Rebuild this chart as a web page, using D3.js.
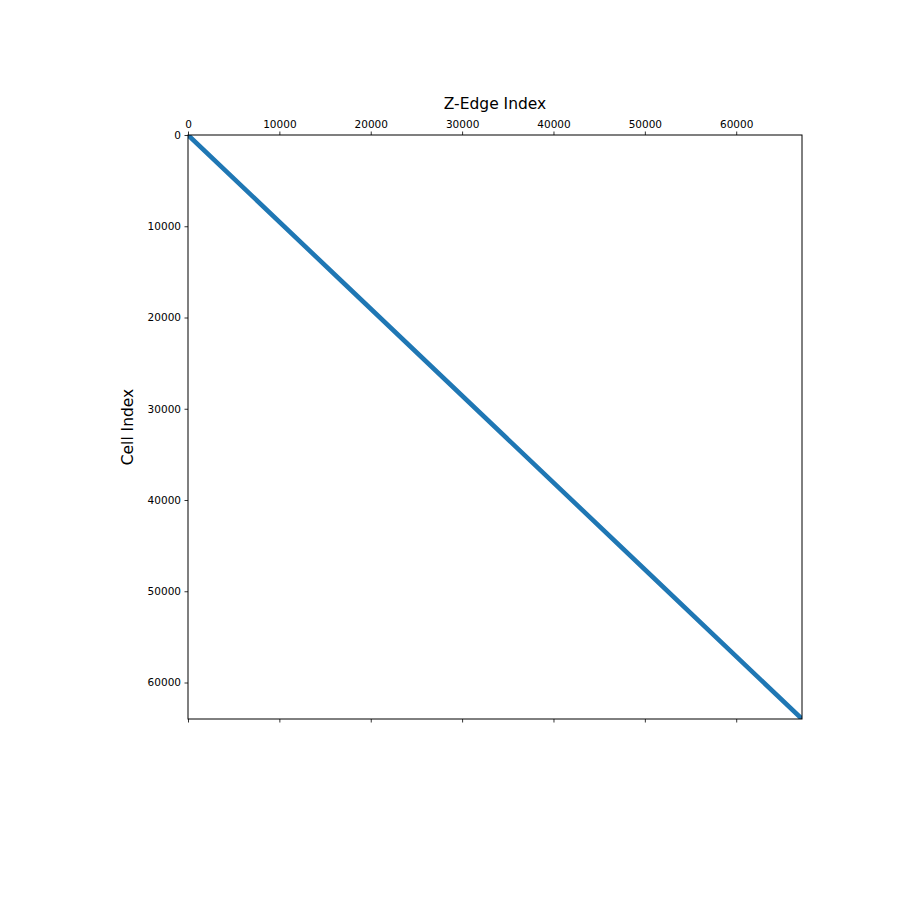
<!DOCTYPE html>
<html><head><meta charset="utf-8">
<script src="https://cdn.jsdelivr.net/npm/d3@7"></script>
<style>body{margin:0;background:#fff}svg{display:block}text{font-family:"DejaVu Sans",sans-serif}</style>
</head><body>
<script>
// Sparsity pattern: the non-zeros lie along one band.
const nCells = 64000;          // rows (Cell Index)
const nZEdges = 67200;         // columns (Z-Edge Index)
const bandCells = [0, 16000, 32000, 48000, 64000];
const bandZEdges = [0, 16800, 33600, 50400, 67200];
const xTicks = [0, 10000, 20000, 30000, 40000, 50000, 60000];
const yTicks = [0, 10000, 20000, 30000, 40000, 50000, 60000];

const W = 900, H = 900;
const m = {left: 188, top: 135, right: 802, bottom: 719};
const svg = d3.select("body").append("svg").attr("width", W).attr("height", H);

const x = d3.scaleLinear().domain([0, nZEdges]).range([m.left, m.right]);
const y = d3.scaleLinear().domain([0, nCells]).range([m.top, m.bottom]);

svg.append("clipPath").attr("id", "clip").append("rect")
  .attr("x", m.left).attr("y", m.top).attr("width", m.right - m.left).attr("height", m.bottom - m.top);

const pts = bandCells.map((c, i) => [bandZEdges[i], c]);
svg.append("path").attr("clip-path", "url(#clip)")
  .attr("d", d3.line().x(d => x(d[0])).y(d => y(d[1]))(pts))
  .attr("fill", "none").attr("stroke", "#1f77b4").attr("stroke-width", 4.6).attr("stroke-linecap", "square");

const fmt = d3.format("d");
const gTop = svg.append("g").attr("transform", `translate(0,${m.top})`)
  .call(d3.axisTop(x).tickValues(xTicks).tickFormat(fmt).tickSizeOuter(0).tickSize(3.5).tickPadding(3.5));
const gBot = svg.append("g").attr("transform", `translate(0,${m.bottom})`)
  .call(d3.axisBottom(x).tickValues(xTicks).tickFormat("").tickSizeOuter(0).tickSize(3.5));
const gLeft = svg.append("g").attr("transform", `translate(${m.left},0)`)
  .call(d3.axisLeft(y).tickValues(yTicks).tickFormat(fmt).tickSizeOuter(0).tickSize(3.5).tickPadding(3.5));
[gTop, gBot, gLeft].forEach(g => {
  g.select(".domain").remove();
  g.selectAll("line").attr("stroke", "#000").attr("stroke-width", 0.8);
  g.selectAll("text").attr("font-size", 10.5).attr("fill", "#000").attr("font-family", "DejaVu Sans");
});

svg.append("rect").attr("x", m.left).attr("y", m.top)
  .attr("width", m.right - m.left).attr("height", m.bottom - m.top)
  .attr("fill", "none").attr("stroke", "#000").attr("stroke-width", 1);

svg.append("text").attr("x", (m.left + m.right) / 2).attr("y", 109)
  .attr("text-anchor", "middle").attr("font-size", 15.5).text("Z-Edge Index");
svg.append("text").attr("transform", `translate(133,${(m.top + m.bottom) / 2}) rotate(-90)`)
  .attr("text-anchor", "middle").attr("font-size", 15.5).text("Cell Index");
</script>
</body></html>
